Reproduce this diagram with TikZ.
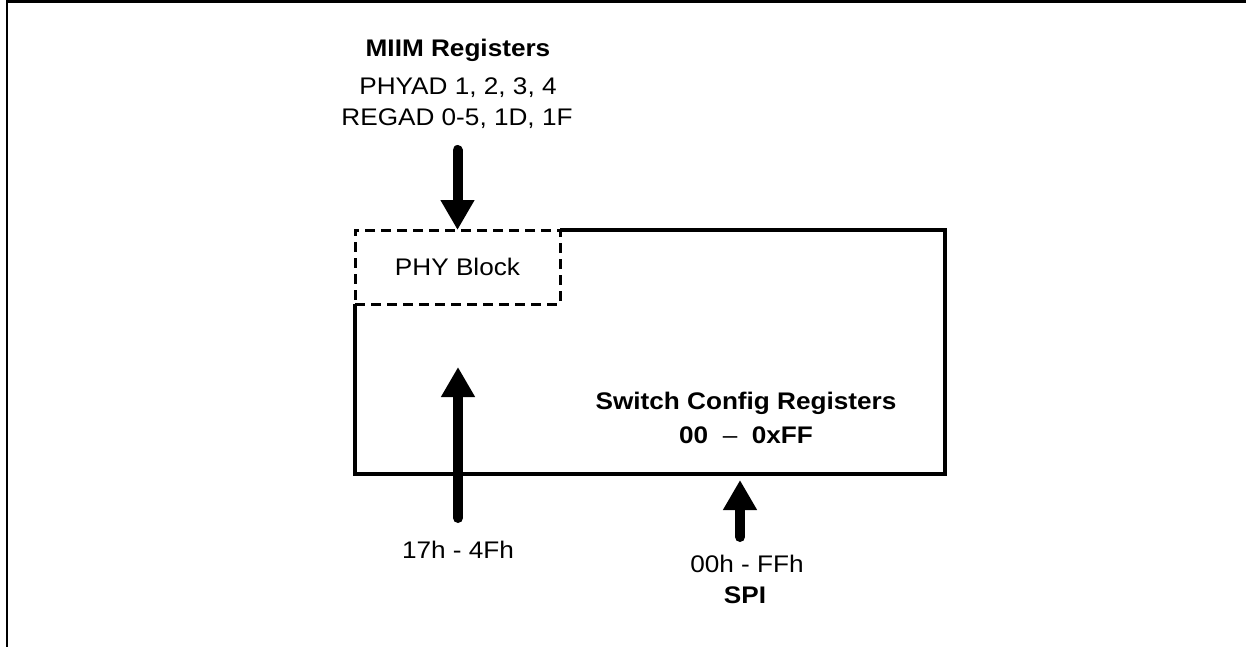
\documentclass[tikz,border=0pt]{standalone}
\usepackage{fontspec}
\setmainfont[FakeStretch=1.09]{Liberation Sans}
\usetikzlibrary{arrows.meta}
\begin{document}
\begin{tikzpicture}[x=1pt,y=-1pt,
  lbl/.style={font=\fontsize{24}{28}\selectfont, inner sep=0pt, anchor=base},
  blbl/.style={inner sep=0pt, anchor=base, font=\fontsize{24}{28}\selectfont\bfseries},
  bigarrow/.style={line width=10pt, line cap=round, -{Triangle[length=30pt,width=32pt]}},
  frame/.style={line width=2.5pt},
  boxline/.style={line width=4pt},
  phybox/.style={draw, line width=3pt, dash pattern=on 10pt off 6pt, inner sep=0pt, outer sep=0pt,
    minimum width=205pt, minimum height=74pt, font=\fontsize{24}{28}\selectfont},
  ]
\useasboundingbox (0,0) rectangle (1246,647);
% outer frame (top and left only)
\coordinate (fbl) at (7,647);
\coordinate (ftl) at (7,1.5);
\coordinate (ftr) at (1246,1.5);
\draw[frame] (fbl) -- (ftl) -- (ftr);
% main switch box
\node[inner sep=0pt, outer sep=0pt, minimum width=590pt, minimum height=244pt] (sw) at (650,352) {};
\node[phybox] (phy) at (457.5,267) {PHY Block};
\draw[boxline] (phy.north east) -- (sw.north east) -- (sw.south east) -- (sw.south west) -- (phy.south west);
% texts
\node[blbl] (miim) at (458,57) {MIIM Registers};
\node[lbl] (phyad) at (458,95) {PHYAD 1, 2, 3, 4};
\node[lbl] (regad) at (457,126) {REGAD 0-5, 1D, 1F};
\node[blbl] (swcfg) at (746,409) {Switch Config Registers};
\node[blbl] (swrange) at (746,443) {00 \ {\mdseries –} \ 0xFF};
\node[lbl] (low) at (458,558) {17h - 4Fh};
\node[lbl] (spirange) at (747,572) {00h - FFh};
\node[blbl] (spi) at (745,603) {SPI};
% arrows
\coordinate (miimstart) at (457.5,150);
\draw[bigarrow] (miimstart) -- (phy.north);
\coordinate (lowstart) at (458,518);
\coordinate (lowtip) at (458,367);
\draw[bigarrow] (lowstart) -- (lowtip);
\coordinate (spistart) at (740,537);
\coordinate (spitip) at (740,480);
\draw[bigarrow] (spistart) -- (spitip);
\end{tikzpicture}
\end{document}
